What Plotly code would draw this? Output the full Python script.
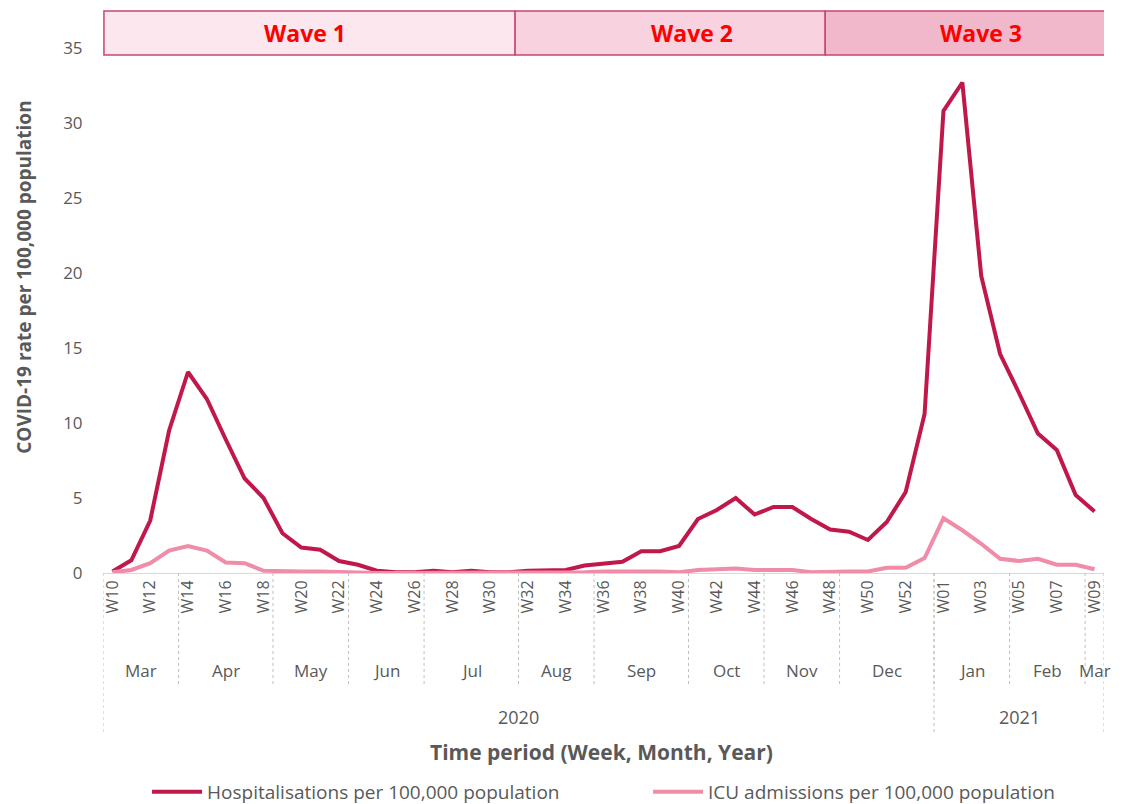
import plotly.graph_objects as go

# weekly rates, W10 2020 .. W09 2021
weeks = [f"W{n}" for n in range(10, 54)] + [f"W{n:02d}" for n in range(1, 10)]

hosp_rate = [
    0.1, 0.85, 3.5, 9.5, 13.4, 11.6, 8.9, 6.3, 5.0, 2.65,
    1.7, 1.55, 0.8, 0.55, 0.15, 0.05, 0.05, 0.15, 0.05, 0.15,
    0.05, 0.05, 0.15, 0.15, 0.2, 0.5, 0.65, 0.75, 1.45, 1.45,
    1.8, 3.6, 4.2, 5.0, 3.9, 4.4, 4.4, 3.6, 2.9, 2.75,
    2.2, 3.4, 5.4, 10.6,
    30.8, 32.7, 19.8, 14.6, 12.0, 9.3, 8.2, 5.2, 4.1,
]
icu_rate = [
    0.05, 0.2, 0.65, 1.5, 1.8, 1.5, 0.7, 0.65, 0.15, 0.1,
    0.1, 0.1, 0.05, 0.05, 0.0, 0.0, 0.0, 0.05, 0.0, 0.0,
    0.0, 0.0, 0.05, 0.05, 0.05, 0.05, 0.1, 0.1, 0.15, 0.1,
    0.05, 0.2, 0.25, 0.3, 0.2, 0.2, 0.2, 0.05, 0.1, 0.1,
    0.1, 0.35, 0.35, 1.0,
    3.65, 2.85, 1.95, 0.95, 0.8, 0.95, 0.55, 0.55, 0.25,
]

months = ["Mar", "Apr", "May", "Jun", "Jul", "Aug", "Sep", "Oct", "Nov", "Dec",
          "Jan", "Feb", "Mar"]
month_weeks = [4, 5, 4, 4, 5, 4, 5, 4, 4, 5, 4, 4, 1]
years = ["2020", "2021"]
year_weeks = [44, 9]

waves = ["Wave 1", "Wave 2", "Wave 3"]
wave_edges = [-0.45, 21.32, 37.74, 52.62]
wave_label_x = [10.2, 30.7, 46.0]
wave_fills = ["#FCE7EE", "#F8D2DE", "#F1B7CA"]

GREY = "#595959"
FONT = "Open Sans"
x = list(range(len(weeks)))

fig = go.Figure()
fig.add_trace(go.Scatter(x=x, y=hosp_rate, mode="lines",
                         name="Hospitalisations per 100,000 population",
                         line=dict(color="#C0184A", width=4)))
fig.add_trace(go.Scatter(x=x, y=icu_rate, mode="lines",
                         name="ICU admissions per 100,000 population",
                         line=dict(color="#F08CA8", width=4)))

shapes = []
annotations = []

# wave boxes above the plot
for label, x0, x1, lx, fill in zip(waves, wave_edges[:-1], wave_edges[1:],
                                   wave_label_x, wave_fills):
    shapes.append(dict(type="rect", xref="x", yref="paper", x0=x0, x1=x1,
                       y0=0.9867, y1=1.0705, fillcolor=fill,
                       line=dict(color="#C8466E", width=1.5)))
    annotations.append(dict(x=lx, y=1.0286, xref="x", yref="paper",
                            text="<b>%s</b>" % label, showarrow=False,
                            xanchor="center", yanchor="middle",
                            font=dict(family=FONT, size=23, color="#FF0000")))

sep = dict(color="#BFBFBF", width=1, dash="dot")

# month groups
start = 0
for m, n in zip(months, month_weeks):
    annotations.append(dict(x=start + (n - 1) / 2, y=-0.185, xref="x", yref="paper",
                            text=m, showarrow=False, yanchor="middle",
                            font=dict(family=FONT, size=17, color=GREY)))
    start += n
    if start < len(weeks):
        shapes.append(dict(type="line", xref="x", yref="paper", x0=start - 0.5,
                           x1=start - 0.5, y0=0, y1=-0.217, line=sep))

# year groups
start = 0
shapes.append(dict(type="line", xref="x", yref="paper", x0=-0.5, x1=-0.5,
                   y0=0, y1=-0.305, line=sep))
for yr, n in zip(years, year_weeks):
    annotations.append(dict(x=start + (n - 1) / 2, y=-0.274, xref="x", yref="paper",
                            text=yr, showarrow=False, yanchor="middle",
                            font=dict(family=FONT, size=18, color=GREY)))
    start += n
    shapes.append(dict(type="line", xref="x", yref="paper", x0=start - 0.5,
                       x1=start - 0.5, y0=0, y1=-0.305, line=sep))

# axis titles
annotations.append(dict(x=0.498, y=-0.341, xref="paper", yref="paper",
                        text="<b>Time period (Week, Month, Year)</b>", showarrow=False,
                        yanchor="middle", font=dict(family=FONT, size=21, color=GREY)))
annotations.append(dict(x=-0.079, y=0.564, xref="paper", yref="paper", textangle=-90,
                        text="<b>COVID-19 rate per 100,000 population</b>", showarrow=False,
                        xanchor="center", yanchor="middle",
                        font=dict(family=FONT, size=19, color=GREY)))

# page body has an 8px margin, so the figure is 8px smaller than the window
fig.update_layout(
    width=1114, height=796,
    margin=dict(l=95, r=18, t=40, b=231, autoexpand=False),
    plot_bgcolor="white", paper_bgcolor="white",
    font=dict(family=FONT, color=GREY),
    shapes=shapes, annotations=annotations,
    showlegend=True,
    legend=dict(orientation="h", x=0.044, xanchor="left", y=-0.417, yanchor="middle",
                font=dict(family=FONT, size=19, color=GREY), entrywidth=436,
                itemwidth=50, bgcolor="rgba(0,0,0,0)"),
    xaxis=dict(range=[-0.5, 52.5], tickmode="array", tickvals=x[::2],
               ticktext=weeks[::2], tickangle=-90, showgrid=False, zeroline=False,
               showline=True, linecolor="#D9D9D9", linewidth=1,
               tickfont=dict(family=FONT, size=16, color=GREY)),
    yaxis=dict(range=[0, 35], dtick=5, showgrid=False, zeroline=False, showline=False,
               ticks="outside", ticklen=16, tickcolor="rgba(0,0,0,0)",
               tickfont=dict(family=FONT, size=17, color=GREY)),
)

fig.write_html("out.html")
